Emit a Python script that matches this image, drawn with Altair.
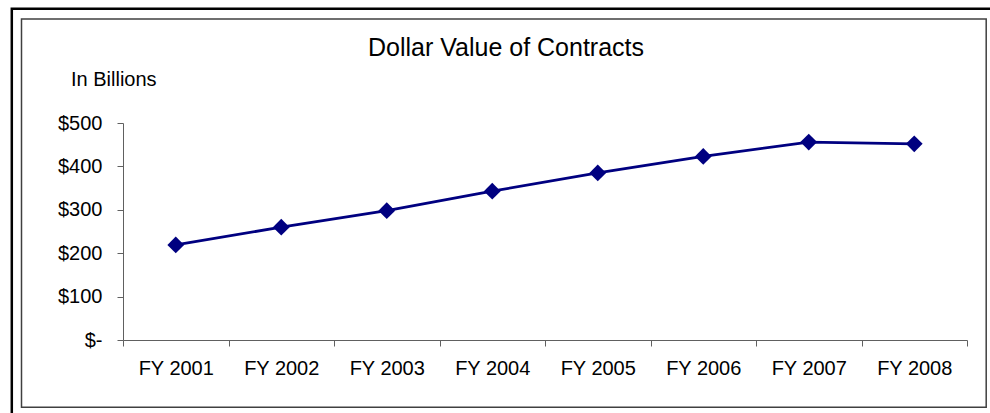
import altair as alt
import pandas as pd

years = ["FY 2001", "FY 2002", "FY 2003", "FY 2004", "FY 2005", "FY 2006", "FY 2007", "FY 2008"]
values = [219, 260, 298, 343, 385, 423, 456, 452]
y_ticks = [0, 100, 200, 300, 400, 500]

df = pd.DataFrame({"year": years, "value": values})
one = pd.DataFrame({"k": [0]})

FONT = "Liberation Sans"
NAVY = "#000080"
OX, OY = 123, 123  # plot origin

x_enc = alt.X(
    "year:N",
    sort=years,
    bandPosition=0.5,
    scale=alt.Scale(type="band", paddingInner=0, paddingOuter=0),
    axis=alt.Axis(
        title=None, labelAngle=0, tickBand="extent", ticks=True, tickSize=6,
        labelPadding=12, labelFontSize=20, labelFont=FONT, labelColor="black",
        domainColor="#606060", tickColor="#606060", grid=False,
    ),
)
y_enc = alt.Y(
    "value:Q",
    scale=alt.Scale(domain=[0, 500], nice=False, zero=True),
    axis=alt.Axis(
        title=None, values=y_ticks, tickSize=6, labelPadding=15,
        labelFontSize=20, labelFont=FONT, labelColor="black",
        labelExpr="datum.value == 0 ? '$-' : '$' + datum.value",
        domainColor="#606060", tickColor="#606060", grid=False,
    ),
)

base = alt.Chart(df)
line = base.mark_line(color=NAVY, strokeWidth=2.8).encode(x=x_enc, y=y_enc)
pts = base.mark_point(shape="diamond", filled=True, color=NAVY, size=280, opacity=1).encode(x=x_enc, y=y_enc)

outer = alt.Chart(one).mark_rect(filled=False, stroke="black", strokeWidth=2.5).encode(
    x=alt.value(11.8 - OX), x2=alt.value(1000 - OX),
    y=alt.value(8.8 - OY), y2=alt.value(430 - OY),
)
inner = alt.Chart(one).mark_rect(filled=False, stroke="#404040", strokeWidth=1.5).encode(
    x=alt.value(21.5 - OX), x2=alt.value(986.2 - OX),
    y=alt.value(19 - OY), y2=alt.value(407.3 - OY),
)
title = alt.Chart(one).mark_text(
    text="Dollar Value of Contracts", font=FONT, fontSize=25, color="black",
    align="center", baseline="alphabetic",
).encode(x=alt.value(506 - OX), y=alt.value(56 - OY))
sub = alt.Chart(one).mark_text(
    text="In Billions", font=FONT, fontSize=20, color="black",
    align="left", baseline="alphabetic",
).encode(x=alt.value(71 - OX), y=alt.value(85.5 - OY))

chart = alt.layer(outer, inner, title, sub, line, pts).properties(
    width=844, height=217,
    padding={"left": OX, "top": OY, "right": 990 - OX - 844, "bottom": 413 - OY - 217},
    autosize=alt.AutoSizeParams(type="none"),
    background="white",
).configure_view(stroke=None)

chart.save("out.html", embed_options={"renderer": "svg", "actions": False})
